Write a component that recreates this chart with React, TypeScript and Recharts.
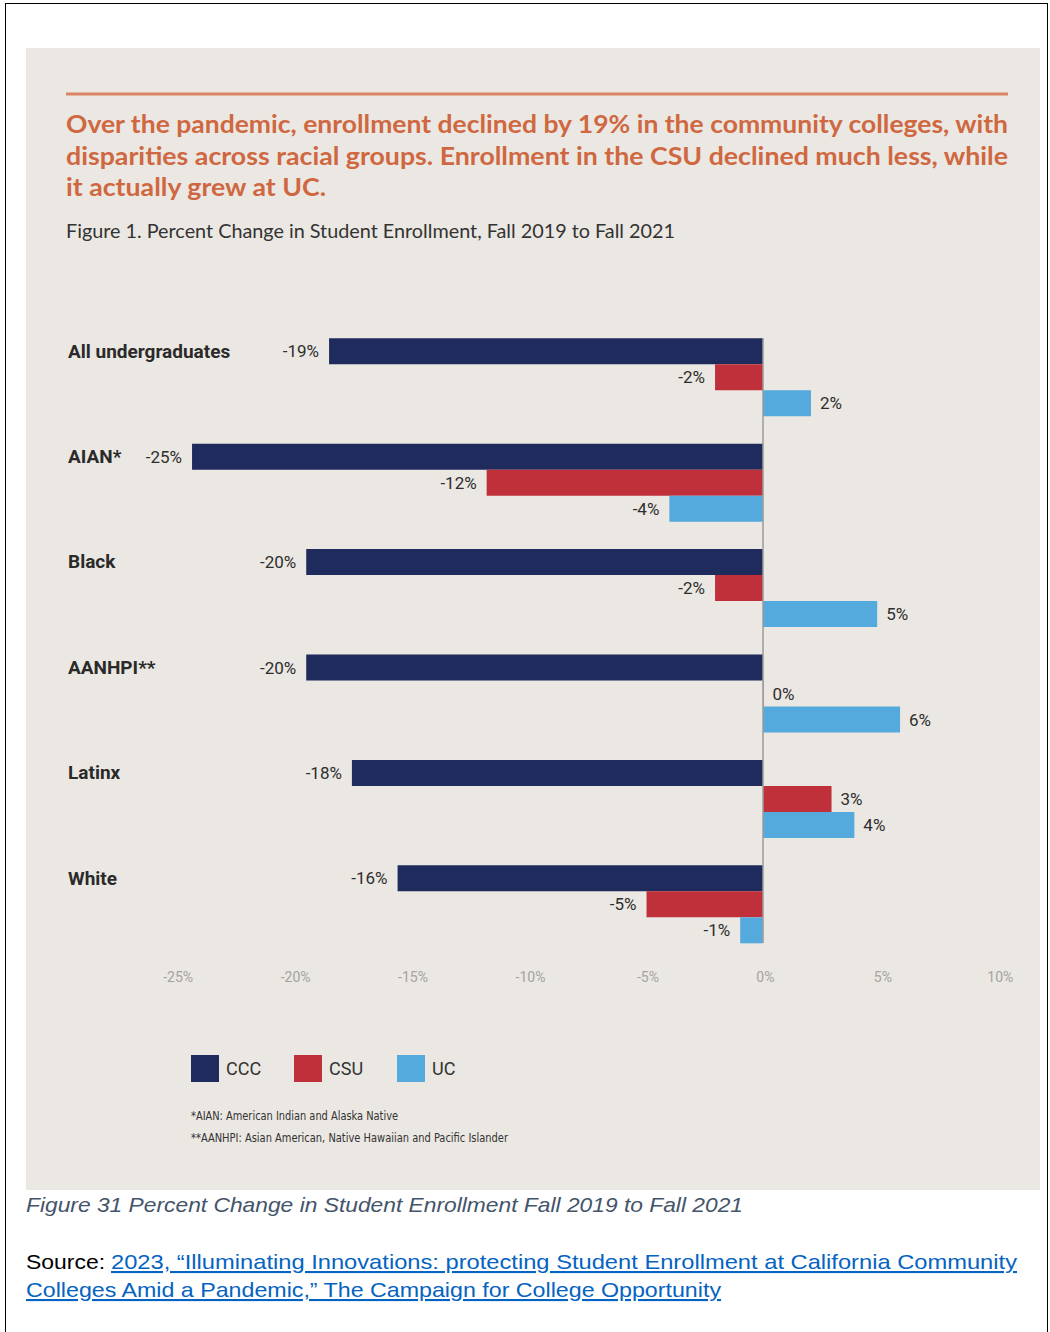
import React from "react";
import { BarChart, Bar, XAxis, YAxis, ReferenceLine, LabelList, Legend } from "recharts";

// ---------- data ----------
const CATEGORIES = ["All undergraduates", "AIAN*", "Black", "AANHPI**", "Latinx", "White"];
const CCC_VALUES = [-19, -25, -20, -20, -18, -16];
const CSU_VALUES = [-2.1, -12.1, -2.1, 0, 3, -5.1];
const UC_VALUES = [2.1, -4.1, 5, 6, 4, -1];
const X_TICKS = [-25, -20, -15, -10, -5, 0, 5, 10];

const SERIES = [
  { key: "ccc", name: "CCC", color: "#1F2B5C" },
  { key: "csu", name: "CSU", color: "#C0303A" },
  { key: "uc", name: "UC", color: "#55AADD" },
];

const TITLE_LINES = [
  "Over the pandemic, enrollment declined by 19% in the community colleges, with",
  "disparities across racial groups. Enrollment in the CSU declined much less, while",
  "it actually grew at UC.",
];
const SUBTITLE = "Figure 1. Percent Change in Student Enrollment, Fall 2019 to Fall 2021";
const FOOTNOTES = [
  "*AIAN: American Indian and Alaska Native",
  "**AANHPI: Asian American, Native Hawaiian and Pacific Islander",
];
const CAPTION = "Figure 31 Percent Change in Student Enrollment Fall 2019 to Fall 2021";
const SOURCE_LABEL = "Source:";
const SOURCE_LINK = [
  "2023, \u201cIlluminating Innovations: protecting Student Enrollment at California Community",
  "Colleges Amid a Pandemic,\u201d The Campaign for College Opportunity",
];

const data = CATEGORIES.map((cat, i) => ({
  cat,
  ccc: CCC_VALUES[i],
  csu: CSU_VALUES[i],
  uc: UC_VALUES[i],
}));

// ---------- layout ----------
const W = 1050;
const H = 1150;
const PLOT_TOP = 324.3;
const BAND = 105.4;
const BAR = 26;
const PLOT_LEFT = 169.2;
const PLOT_RIGHT = 991.4;
const X_AXIS_H = 30;
const PLOT_H = BAND * CATEGORIES.length;
const MARGIN = {
  top: PLOT_TOP,
  right: W - PLOT_RIGHT,
  left: 0,
  bottom: H - PLOT_TOP - PLOT_H - X_AXIS_H,
};
const LINE_GAP = (BAND - BAR * SERIES.length) / 2;
const LINE_LEN = PLOT_H - 2 * LINE_GAP;

const FONT = "Roboto, 'Open Sans', sans-serif";

const CategoryTick = (props: any) => {
  const { y, payload } = props;
  return (
    <text
      x={68}
      y={y - BAR}
      textAnchor="start"
      dominantBaseline="central"
      fontFamily={FONT}
      fontWeight={700}
      fontSize={19}
      fill="#2A2A2A"
    >
      {payload.value}
    </text>
  );
};

const ValueLabel = (props: any) => {
  const vb = props.viewBox || {};
  const x = props.x ?? vb.x;
  const y = props.y ?? vb.y;
  const width = props.width ?? vb.width ?? 0;
  const height = props.height ?? vb.height ?? 0;
  const value = Number(props.value);
  const left = Math.min(x, x + width);
  const right = Math.max(x, x + width);
  const neg = value < 0;
  const r = Math.round(value);
  return (
    <text
      x={neg ? left - 10 : right + 9}
      y={y + height / 2}
      textAnchor={neg ? "end" : "start"}
      dominantBaseline="central"
      fontFamily={FONT}
      fontSize={17}
      fill="#2E2E2E"
    >
      {`${r === 0 ? 0 : r}%`}
    </text>
  );
};

const LegendContent = (props: any) => {
  const items = props.payload && props.payload.length ? props.payload : SERIES.map((s) => ({ value: s.name, color: s.color }));
  return (
    <div style={{ display: "flex" }}>
      {items.map((it: any) => (
        <div key={it.value} style={{ display: "flex", alignItems: "center", width: 103 }}>
          <span style={{ display: "inline-block", width: 28, height: 27, background: it.color, marginRight: 7 }} />
          <span style={{ fontFamily: FONT, fontSize: 18, color: "#333" }}>{it.value}</span>
        </div>
      ))}
    </div>
  );
};

export default function App() {
  return (
    <div style={{ position: "absolute", left: 0, top: 0, width: W, height: 1332, background: "#fff" }}>
      <div
        style={{
          position: "absolute",
          left: 5,
          top: 3,
          width: 1041,
          height: 1329,
          borderLeft: "1px solid #000",
          borderTop: "1px solid #000",
          borderRight: "1px solid #000",
        }}
      />
      <svg width={W} height={1332} style={{ position: "absolute", left: 0, top: 0 }}>
        <rect x={26} y={48} width={1014} height={1142} fill="#EBE7E2" />
        <line x1={66} x2={1008} y1={94} y2={94} stroke="#D98565" strokeWidth={3} />
        {TITLE_LINES.map((t, i) => (
          <text
            key={i}
            x={66}
            y={133 + i * 31.5}
            fontFamily="Lato, Roboto, sans-serif"
            fontWeight={700}
            fontSize={24}
            fill="#CF6841"
            textLength={i === 2 ? 260 : 942}
            lengthAdjust="spacingAndGlyphs"
          >
            {t}
          </text>
        ))}
        <text
          x={66}
          y={238}
          fontFamily="Lato, Roboto, sans-serif"
          fontSize={19}
          fill="#333"
          textLength={609}
          lengthAdjust="spacingAndGlyphs"
        >
          {SUBTITLE}
        </text>
        {FOOTNOTES.map((t, i) => (
          <text
            key={i}
            x={191}
            y={1120 + i * 22}
            fontFamily="'DejaVu Sans Condensed', Roboto, sans-serif"
            fontSize={12.5}
            fill="#333"
            textLength={i === 0 ? 207 : 317}
            lengthAdjust="spacingAndGlyphs"
          >
            {t}
          </text>
        ))}
        <text
          x={26}
          y={1212}
          fontFamily="'Liberation Sans', Arial, sans-serif"
          fontStyle="italic"
          fontSize={21}
          fill="#44546A"
          textLength={717}
          lengthAdjust="spacingAndGlyphs"
        >
          {CAPTION}
        </text>
        <text
          x={26}
          y={1269}
          fontFamily="'Liberation Sans', Arial, sans-serif"
          fontSize={21}
          fill="#000"
          textLength={79}
          lengthAdjust="spacingAndGlyphs"
        >
          {SOURCE_LABEL}
        </text>
        {SOURCE_LINK.map((t, i) => (
          <text
            key={i}
            x={i === 0 ? 111 : 26}
            y={1269 + i * 28}
            fontFamily="'Liberation Sans', Arial, sans-serif"
            fontSize={21}
            fill="#0563C1"
            style={{ textDecoration: "underline" }}
            textLength={i === 0 ? 906 : 695}
            lengthAdjust="spacingAndGlyphs"
          >
            {t}
          </text>
        ))}
      </svg>
      <div style={{ position: "absolute", left: 0, top: 0 }}>
        <BarChart
          width={W}
          height={H}
          data={data}
          layout="vertical"
          margin={MARGIN}
          barGap={0}
          barSize={BAR}
        >
          <XAxis xAxisId="v" type="number" domain={[-26, 10]} hide allowDataOverflow />
          <XAxis
            xAxisId="t"
            type="number"
            domain={[-25.38, 9.62]}
            ticks={X_TICKS}
            allowDataOverflow
            height={X_AXIS_H}
            axisLine={false}
            tickLine={false}
            tickSize={0}
            tickMargin={15}
            tickFormatter={(v: number) => `${v}%`}
            tick={{ fontFamily: FONT, fontSize: 14, fill: "#A3A3A3" }}
          />
          <YAxis
            type="category"
            dataKey="cat"
            width={PLOT_LEFT}
            axisLine={false}
            tickLine={false}
            tick={<CategoryTick />}
          />
          {SERIES.map((s) => (
            <Bar
              key={s.key}
              xAxisId="v"
              dataKey={s.key}
              name={s.name}
              fill={s.color}
              minPointSize={0.5}
              isAnimationActive={false}
            >
              <LabelList dataKey={s.key} content={<ValueLabel />} />
            </Bar>
          ))}
          <ReferenceLine
            xAxisId="v"
            x={0}
            stroke="#9C9C9C"
            strokeWidth={1.5}
            strokeDasharray={`0 ${LINE_GAP} ${LINE_LEN} ${LINE_GAP + 50}`}
          />
          <Legend
            layout="vertical"
            align="center"
            verticalAlign="middle"
            content={<LegendContent />}
            wrapperStyle={{ left: 191, top: 1055, width: 400, height: 28 }}
          />
        </BarChart>
      </div>
    </div>
  );
}
